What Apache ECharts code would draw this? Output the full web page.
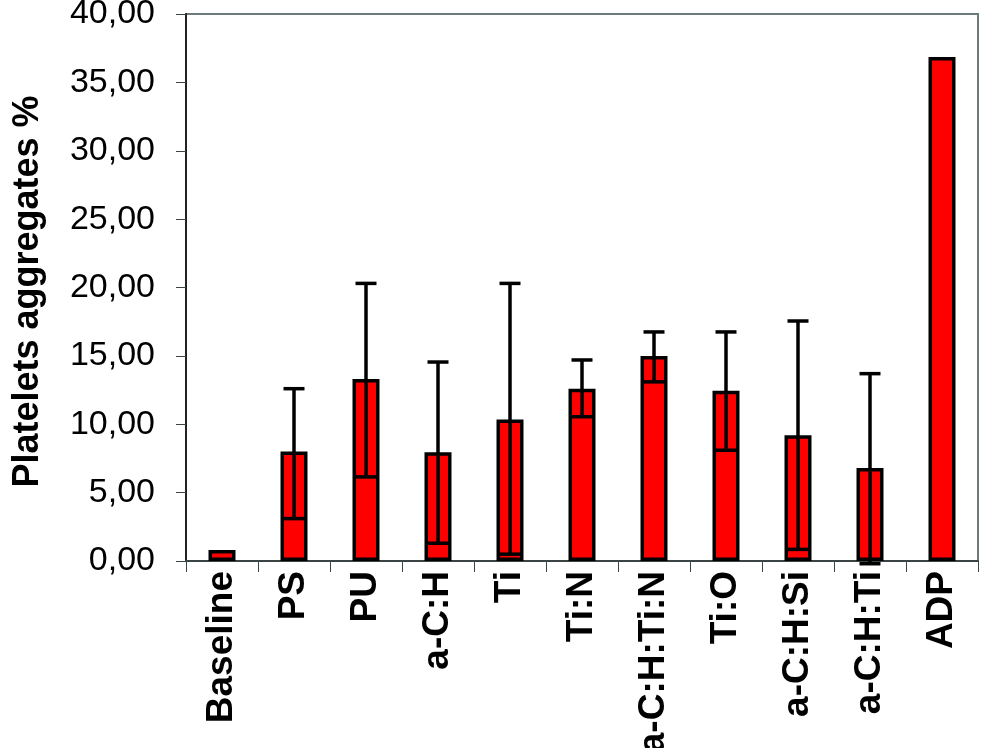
<!DOCTYPE html>
<html>
<head>
<meta charset="utf-8">
<title>Platelets aggregates</title>
<script src="https://cdn.jsdelivr.net/npm/echarts@6/dist/echarts.min.js"></script>
<style>
  html, body { margin: 0; padding: 0; background: #fff; }
  #chart { width: 981px; height: 748px; }
</style>
</head>
<body>
<div id="chart"></div>
<script>
  // data
  var categories = ['Baseline', 'PS', 'PU', 'a-C:H', 'Ti', 'Ti:N', 'a-C:H:Ti:N', 'Ti:O', 'a-C:H:Si', 'a-C:H:Ti', 'ADP'];
  var values = [0.8, 8.0, 13.3, 7.95, 10.35, 12.6, 15.0, 12.45, 9.2, 6.8, 36.85];
  // error bar ends (null = no bar)
  var errLow = [null, 3.1, 6.15, 1.3, 0.5, 10.55, 13.1, 8.1, 0.85, -0.2, null];
  var errHigh = [null, 12.6, 20.3, 14.55, 20.3, 14.7, 16.75, 16.75, 17.55, 13.7, null];
  var yTicks = [0, 5, 10, 15, 20, 25, 30, 35, 40];

  var font = 'Liberation Sans, Arial, Helvetica, sans-serif';

  var errData = [];
  categories.forEach(function (c, i) {
    if (errLow[i] != null) errData.push([i, errLow[i], errHigh[i]]);
  });

  var myChart = echarts.init(document.getElementById('chart'));

  myChart.setOption({
    animation: false,
    backgroundColor: '#fff',
    grid: {
      left: 186,
      right: 3,
      top: 14,
      bottom: 187,
      containLabel: false,
      outerBoundsMode: 'none',
      show: true,
      borderColor: '#6b7b7b',
      borderWidth: 2,
      backgroundColor: 'transparent'
    },
    xAxis: {
      type: 'category',
      data: categories,
      axisLine: { lineStyle: { color: '#3a4444', width: 2 } },
      axisTick: { show: true, length: 11, lineStyle: { color: '#3a4444', width: 1 } },
      axisLabel: {
        rotate: 90,
        margin: 10,
        interval: 0,
        color: '#000',
        fontFamily: font,
        fontWeight: 'bold',
        fontSize: 37
      },
      splitLine: { show: false }
    },
    yAxis: {
      type: 'value',
      min: yTicks[0],
      max: yTicks[yTicks.length - 1],
      interval: 5,
      name: 'Platelets aggregates %',
      nameLocation: 'middle',
      nameGap: 140,
      nameRotate: 90,
      nameTextStyle: {
        color: '#000',
        fontFamily: font,
        fontWeight: 'bold',
        fontSize: 36,
        padding: [0, 8, 0, 0]
      },
      axisLine: { show: true, lineStyle: { color: '#222', width: 2 } },
      axisTick: { show: true, length: 10, lineStyle: { color: '#3a4444', width: 1 } },
      axisLabel: {
        margin: 31,
        color: '#000',
        fontFamily: font,
        fontSize: 34,
        formatter: function (v) { return v.toFixed(2).replace('.', ','); }
      },
      splitLine: { show: false }
    },
    series: [
      {
        name: 'Platelets',
        type: 'bar',
        data: values,
        barWidth: 27,
        itemStyle: {
          color: '#ff0000',
          borderColor: '#000',
          borderWidth: 3.5
        }
      },
      {
        name: 'error',
        type: 'custom',
        data: errData,
        z: 10,
        renderItem: function (params, api) {
          var x = api.value(0);
          var lo = api.coord([x, api.value(1)]);
          var hi = api.coord([x, api.value(2)]);
          var half = 10.5;
          var style = { stroke: '#000', lineWidth: 3.5 };
          return {
            type: 'group',
            children: [
              { type: 'line', shape: { x1: lo[0], y1: lo[1], x2: hi[0], y2: hi[1] }, style: style },
              { type: 'line', shape: { x1: lo[0] - half, y1: lo[1], x2: lo[0] + half, y2: lo[1] }, style: style },
              { type: 'line', shape: { x1: hi[0] - half, y1: hi[1], x2: hi[0] + half, y2: hi[1] }, style: style }
            ]
          };
        }
      }
    ]
  });

  window.addEventListener('resize', function () {
    myChart.resize();
  });
</script>
</body>
</html>
